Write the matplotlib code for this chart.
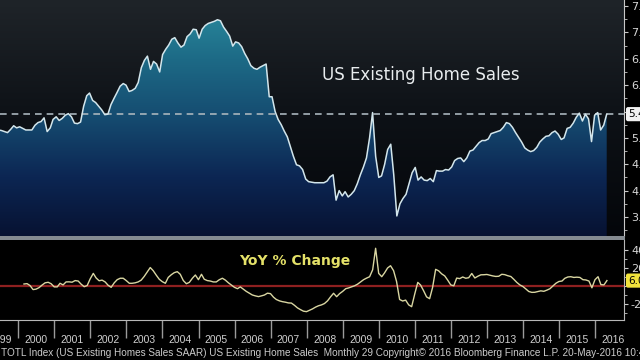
import numpy as np
import pandas as pd
import matplotlib
matplotlib.use('Agg')
import matplotlib.pyplot as plt
import matplotlib.dates as mdates
from matplotlib.colors import LinearSegmentedColormap
from matplotlib.patches import PathPatch, Rectangle
from matplotlib import font_manager

# US existing home sales, SAAR, millions (month-end, Aug 1999 .. Apr 2016)
sales = [
    5.15, 5.14, 5.12, 5.10, 5.16,
    5.23, 5.19, 5.21, 5.18, 5.15, 5.15, 5.15, 5.24, 5.29, 5.31, 5.38, 5.12,
    5.19, 5.35, 5.40, 5.33, 5.37, 5.43, 5.46, 5.40, 5.28, 5.27, 5.30, 5.60,
    5.80, 5.85, 5.71, 5.67, 5.60, 5.53, 5.44, 5.45, 5.63, 5.75, 5.86, 5.98,
    6.03, 6.00, 5.88, 5.90, 5.94, 6.05, 6.33, 6.47, 6.55, 6.30, 6.45, 6.40,
    6.25, 6.58, 6.68, 6.76, 6.87, 6.90, 6.80, 6.72, 6.76, 6.92, 6.97, 7.06,
    7.05, 6.89, 7.06, 7.13, 7.17, 7.19, 7.21, 7.24, 7.22, 7.10, 7.02, 6.93,
    6.74, 6.82, 6.80, 6.73, 6.60, 6.50, 6.37, 6.32, 6.30, 6.34, 6.37, 6.40,
    5.78, 5.78, 5.50, 5.35, 5.25, 5.13, 5.02, 4.83, 4.65, 4.49, 4.47, 4.40,
    4.22, 4.17, 4.16, 4.15, 4.15, 4.15, 4.15, 4.18, 4.26, 4.30, 3.82, 4.00,
    3.90, 3.98, 3.88, 3.93, 4.00, 4.13, 4.30, 4.45, 4.62, 5.00, 5.48, 4.65,
    4.25, 4.28, 4.50, 4.78, 4.88, 4.30, 3.52, 3.75, 3.85, 3.93, 4.13, 4.34,
    4.44, 4.20, 4.26, 4.20, 4.19, 4.23, 4.17, 4.38, 4.37, 4.37, 4.40, 4.39,
    4.45, 4.57, 4.61, 4.62, 4.55, 4.62, 4.75, 4.77, 4.84, 4.91, 4.95, 4.95,
    4.98, 5.08, 5.10, 5.12, 5.14, 5.20, 5.29, 5.27, 5.20, 5.10, 5.01, 4.92,
    4.81, 4.77, 4.74, 4.76, 4.82, 4.92, 4.98, 5.03, 5.04, 5.10, 5.13, 5.07,
    4.97, 5.00, 5.18, 5.20, 5.28, 5.39, 5.47, 5.32, 5.45, 5.36, 4.93, 5.43,
    5.48, 5.15, 5.24, 5.45,
]

# year-over-year % change (month-end, Feb 2000 .. Apr 2016)
yoy = [
    2.2, 2.6, 0.5, -4.0, -3.5, -1.8, 1.1, 3.5, 4.1, 2.5, -1.0,
    -1.0, 3.0, 1.2, 4.5, 4.6, 4.2, 6.0, 5.5, 2.0, -0.8, 0.5, 8.0,
    14.0, 9.0, 5.8, 6.5, 4.5, 0.8, -1.5, 3.5, 7.0, 8.6, 8.6, 6.0,
    3.0, 3.0, 3.5, 4.5, 6.5, 10.5, 15.5, 20.5, 17.0, 12.0, 7.5, 4.8,
    3.0, 9.5, 12.5, 14.8, 15.9, 13.0, 6.0, 2.5, 4.0, 8.6, 12.2, 7.0,
    13.0, 7.5, 6.0, 5.5, 4.5, 4.5, 7.0, 8.6, 6.5, 3.5, 1.1, -1.5,
    -3.0, -1.0, -3.5, -6.0, -8.1, -10.0, -11.0, -11.8, -11.0, -10.0, -8.0, -8.5,
    -12.5, -15.0, -16.5, -17.4, -18.0, -18.8, -19.0, -21.5, -24.3, -26.3, -28.0, -28.5,
    -27.0, -25.5, -23.5, -22.0, -21.0, -19.5, -16.5, -12.0, -8.1, -11.9, -8.5, -6.0,
    -3.0, -2.2, -1.0, 0.2, 2.0, 4.5, 7.0, 8.8, 10.3, 18.0, 41.9, 14.0,
    10.3, 14.5, 20.0, 22.5, 17.0, 5.0, -15.0, -16.7, -15.7, -21.0, -23.0, -9.0,
    4.0, 1.1, -5.3, -12.1, -14.1, -1.6, 18.5, 16.8, 13.5, 11.2, 6.5, 1.2,
    0.2, 8.8, 8.2, 10.0, 8.6, 9.2, 13.9, 8.9, 10.8, 12.4, 12.5, 12.8,
    11.9, 11.2, 10.6, 10.8, 13.0, 12.6, 11.4, 10.5, 7.4, 3.9, 1.2, -0.6,
    -3.4, -6.1, -7.1, -7.0, -6.2, -5.4, -5.9, -4.6, -3.1, 0.0, 3.0, 5.0,
    5.5, 8.5, 10.0, 10.3, 9.5, 9.8, 9.5, 7.0, 6.7, 5.5, -2.0, 7.0,
    10.3, 1.5, 1.2, 6.0,
]

years = list(range(1999, 2017))
sales_ticks = [3.5, 4.0, 4.5, 5.0, 5.5, 6.0, 6.5, 7.0, 7.5]
yoy_ticks = [-20, 0, 20, 40]
footer = ("TOTL Index (US Existing Homes Sales SAAR) US Existing Home Sales  Monthly 29 "
          "Copyright\u00a9 2016 Bloomberg Finance L.P. 20-May-2016 10:40")

names = {f.name for f in font_manager.fontManager.ttflist}
small_font = 'Liberation Sans Narrow' if 'Liberation Sans Narrow' in names else 'Liberation Sans'

sx = mdates.date2num(pd.date_range('1999-08-31', periods=len(sales), freq='ME'))
yx = mdates.date2num(pd.date_range('2000-02-29', periods=len(yoy), freq='ME'))
xmin = mdates.date2num(pd.Timestamp('1999-09-16'))
xmax = mdates.date2num(pd.Timestamp('2016-10-20'))
ylo, yhi = 3.14, 7.614

fig = plt.figure(figsize=(6.4, 3.6), dpi=100, facecolor='black')
ax = fig.add_axes([0, 124 / 360, 624 / 640, 236 / 360])
ax2 = fig.add_axes([0, 40 / 360, 624 / 640, 80 / 360])

# top panel: background + gradient area
grad = np.linspace(0, 1, 256).reshape(-1, 1)
bg_cmap = LinearSegmentedColormap.from_list('bg', ['#04060a', '#0d1116', '#1f2429'])
area_cmap = LinearSegmentedColormap.from_list(
    'area', ['#071232', '#0c2653', '#154b70', '#1d6a86', '#2b8ea0'])
ax.imshow(grad, extent=[xmin, xmax, ylo, yhi], aspect='auto', origin='lower',
          cmap=bg_cmap, zorder=0)
im = ax.imshow(grad, extent=[xmin, xmax, ylo, yhi], aspect='auto', origin='lower',
               cmap=area_cmap, zorder=1)
fill = ax.fill_between(sx, sales, ylo, facecolor='none', edgecolor='none')
clip = PathPatch(fill.get_paths()[0], transform=ax.transData, fc='none', ec='none')
ax.add_patch(clip)
im.set_clip_path(clip)

ax.axhline(sales[-1], color='#a9b5bc', lw=1.2, dashes=(4, 3), zorder=2)
ax.plot(sx, sales, color='#d3e6ec', lw=1.1, zorder=3)

ax.set_xlim(xmin, xmax)
ax.set_ylim(ylo, yhi)
ax.set_xticks([])
for s in ['left', 'top', 'bottom']:
    ax.spines[s].set_visible(False)
ax.spines['right'].set_color('#c8c8c8')
ax.yaxis.tick_right()
ax.set_yticks(sales_ticks)
ax.set_yticks(np.arange(3.25, 7.6, 0.25), minor=True)
# the last-value box sits over the 5.5 label, as in the terminal chart
ax.set_yticklabels(['' if v == 5.5 else f'{v:.1f}' for v in sales_ticks])
ax.tick_params(axis='y', which='both', direction='out', length=3, color='#c8c8c8',
               labelcolor='#d8d8d8', labelsize=8, pad=2)
ax.tick_params(axis='y', which='minor', length=2)

ax.annotate(f'{sales[-1]:.2f}', xy=(1.0065, sales[-1]), xycoords=('axes fraction', 'data'),
            va='center', ha='left', fontsize=7.5, color='black', annotation_clip=False,
            bbox=dict(boxstyle='round,pad=0.2', fc='#f2f2f2', ec='none'))

fig.text(322 / 640, (360 - 75) / 360, 'US Existing Home Sales', fontsize=12,
         color='#e8ecee', va='center', ha='left')

# separator bar
fig.patches.append(Rectangle((0, 120 / 360), 625 / 640, 4 / 360, transform=fig.transFigure,
                             facecolor='#858b91', edgecolor='none'))

# bottom panel
ax2.set_facecolor('black')
ax2.axhline(0, color='#8e2020', lw=1.6, zorder=1)
ax2.plot(yx, yoy, color='#d9d6a2', lw=1.0, zorder=2)
ax2.set_xlim(xmin, xmax)
ax2.set_ylim(-37.8, 51.1)
ax2.spines['left'].set_visible(False)
ax2.spines['top'].set_visible(False)
for s in ['right', 'bottom']:
    ax2.spines[s].set_color('#b8b8b8')
ax2.yaxis.tick_right()
ax2.set_yticks(yoy_ticks)
ax2.set_yticks([-30, -10, 10, 30], minor=True)
ax2.set_yticklabels(['' if v == 0 else str(v) for v in yoy_ticks])
ax2.tick_params(axis='y', which='both', direction='out', length=3, color='#c8c8c8',
                labelcolor='#d8d8d8', labelsize=8, pad=2)
ax2.tick_params(axis='y', which='minor', length=2)

ax2.set_xticks([mdates.date2num(pd.Timestamp(f'{y}-01-01')) for y in years[1:]])
ax2.set_xticklabels([])
ax2.set_xticks([mdates.date2num(pd.Timestamp(f'{y}-07-01')) for y in years], minor=True)
ax2.set_xticklabels([str(y) for y in years], minor=True)
ax2.tick_params(axis='x', which='major', direction='out', length=13, color='#9a9a9a', width=1)
ax2.tick_params(axis='x', which='minor', length=0, pad=11, labelsize=7.5,
                labelcolor='#d0d0d0')
for t in ax2.get_xticklabels(minor=True):
    t.set_family(small_font)

ax2.annotate(f'{yoy[-1]:.2f}', xy=(1.0065, yoy[-1]), xycoords=('axes fraction', 'data'),
             va='center', ha='left', fontsize=7.5, color='black', annotation_clip=False,
             bbox=dict(boxstyle='round,pad=0.2', fc='#f0e23c', ec='none'))

fig.text(239 / 640, (360 - 261) / 360, 'YoY % Change', fontsize=10, fontweight='bold',
         color='#e4e168', va='center', ha='left')

fig.text(0.001, (360 - 353) / 360, footer, fontsize=7.2, color='#cccccc', va='center',
         ha='left', family=small_font)

fig.savefig('out.png', dpi=100, facecolor='black')
